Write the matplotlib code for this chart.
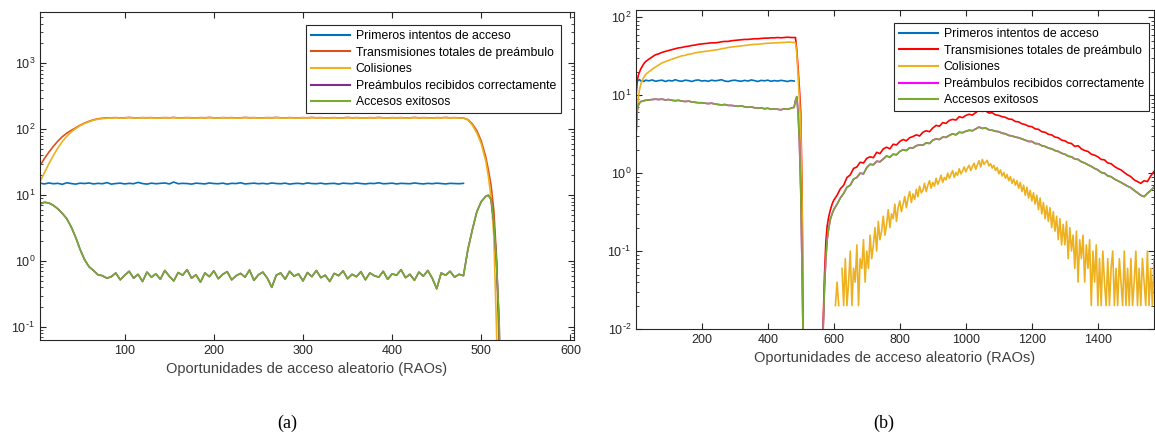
import matplotlib
matplotlib.use("Agg")
import matplotlib.pyplot as plt
import numpy as np

nan = np.nan

plt.rcParams['font.family'] = ['Liberation Sans', 'DejaVu Sans']
plt.rcParams['mathtext.default'] = 'regular'
plt.rcParams['axes.unicode_minus'] = False

labels = ["Primeros intentos de acceso",
          "Transmisiones totales de preámbulo",
          "Colisiones",
          "Preámbulos recibidos correctamente",
          "Accesos exitosos"]
xlabel = "Oportunidades de acceso aleatorio (RAOs)"

# ---------------- panel (a) ----------------
x_a = list(range(5, 481, 5)) + [485, 490, 495, 500, 505, 508, 511, 514, 517, 520, 523]

primeros_a = [15.2, 14.8, 15.3, 14.9, 15.1, 14.6, 15.4, 15.0, 14.7, 15.2,
              15.0, 15.3, 14.8, 15.1, 14.9, 15.5, 14.7, 15.0, 15.2, 14.8,
              15.1, 14.9, 15.6, 15.0, 14.7, 15.2, 14.9, 15.1, 15.3, 14.8,
              15.8, 14.9, 15.1, 15.0, 14.7, 15.2, 15.0, 14.8, 15.3, 15.0,
              14.9, 15.2, 14.7, 15.1, 15.0, 15.4, 14.8, 15.0, 15.2, 14.9,
              15.1, 14.8, 15.3, 15.0, 14.9, 15.2, 14.7, 15.0, 15.1, 14.8,
              15.3, 15.0, 14.9, 15.2, 14.8, 15.0, 15.1, 14.7, 15.2, 15.0,
              14.9, 15.3, 15.0, 14.8, 15.1, 15.0, 15.4, 14.9, 15.0, 15.2,
              14.8, 15.1, 15.0, 14.9, 15.3, 15.0, 14.8, 15.1, 14.9, 15.2,
              15.0, 14.8, 15.1, 15.0, 14.9, 15.1,
              nan, nan, nan, nan, nan, nan, nan, nan, nan, nan, nan]

transm_a = [28, 36, 45, 55, 66, 77, 87, 96, 105, 115, 124, 132, 139, 144, 147, 149,
            149, 150, 148, 149, 151, 149, 148, 150, 149, 150,
            148, 149, 150, 149, 151, 148, 149, 150, 149, 148,
            150, 149, 151, 149, 148, 150, 149, 150, 148, 149,
            151, 149, 150, 148, 149, 150, 149, 151, 149, 148,
            150, 149, 148, 150, 149, 151, 149, 150, 148, 149,
            150, 148, 149, 151, 149, 150, 149, 148, 150, 149,
            151, 149, 148, 150, 149, 150, 148, 149, 151, 149,
            150, 149, 148, 150, 149, 151, 149, 150, 149, 148,
            140, 120, 95, 66, 38, 24, 14, 6, 1.2, 0.05, 0.001]

colis_a = [16, 22, 30, 40, 52, 65, 78, 91, 102, 113, 122, 130, 137, 142, 145, 147,
           148, 149, 147, 148, 150, 148, 147, 149, 148, 149,
           147, 148, 149, 148, 150, 147, 148, 149, 148, 147,
           149, 148, 150, 148, 147, 149, 148, 149, 147, 148,
           150, 148, 149, 147, 148, 149, 148, 150, 148, 147,
           149, 148, 147, 149, 148, 150, 148, 149, 147, 148,
           149, 147, 148, 150, 148, 149, 148, 147, 149, 148,
           150, 148, 147, 149, 148, 149, 147, 148, 150, 148,
           149, 148, 147, 149, 148, 150, 148, 149, 148, 147,
           138, 115, 88, 60, 33, 19, 9, 2.5, 0.1, 0.001, nan]

exitos_a = [7.3, 7.8, 7.6, 7.0, 6.2, 5.3, 4.4, 3.3, 2.3, 1.5, 1.05, 0.82, 0.72, 0.62, 0.6, 0.55,
            0.58, 0.66, 0.52, 0.61, 0.70, 0.55, 0.63, 0.49, 0.68, 0.57,
            0.64, 0.53, 0.72, 0.59, 0.50, 0.67, 0.61, 0.74, 0.55, 0.62,
            0.48, 0.66, 0.58, 0.71, 0.54, 0.63, 0.69, 0.52, 0.60, 0.65,
            0.57, 0.73, 0.51, 0.62, 0.68, 0.55, 0.40, 0.61, 0.66, 0.53,
            0.70, 0.59, 0.64, 0.50, 0.67, 0.58, 0.72, 0.56, 0.61, 0.49,
            0.65, 0.60, 0.71, 0.54, 0.63, 0.58, 0.69, 0.52, 0.66, 0.60,
            0.57, 0.70, 0.53, 0.64, 0.61, 0.74, 0.56, 0.63, 0.51, 0.68,
            0.59, 0.72, 0.55, 0.38, 0.66, 0.61, 0.70, 0.57, 0.63, 0.60,
            1.5, 3.0, 5.6, 8.0, 9.6, 10.0, 8.5, 4.0, 1.0, 0.12, 0.001]
recibidos_a = list(exitos_a)

# ---------------- panel (b) ----------------
x_b = ([1, 3, 5, 8, 12, 16, 20, 25, 30] + list(range(40, 481, 10))
       + [484, 488, 492, 496, 500, 504, 508] + [530]
       + [564, 568, 572, 576, 580, 585, 590, 595] + list(range(600, 1571, 10)))
# collisions are noisier, sampled finer after the gap
x_colis_b = x_b[:70] + list(range(600, 1571, 5))

primeros_b = ([15.3, 15.6, 15.1, 15.5, 15.8, 15.2, 15.4, 15.0, 15.6,
               15.3, 15.7, 15.1, 15.4, 15.6, 15.0, 15.5, 15.2, 15.8, 15.3,
               15.1, 15.6, 15.4, 15.0, 15.5, 15.7, 15.2, 15.4, 15.1, 15.6,
               15.3, 15.5, 15.8, 15.2, 15.0, 15.4, 15.6, 15.3, 15.1, 15.5,
               15.2, 15.7, 15.4, 15.0, 15.5, 15.3, 15.6, 15.1, 15.4, 15.2,
               15.5, 15.3, 15.0, 15.4, 15.2] + [nan] * 114)

transm_b = [9.5, 12, 15.5, 18, 20, 22, 23.5, 25.5, 27,
            29, 31, 33, 34, 35.5, 36.5, 37.5, 38.5, 39.5, 40.5,
            41, 42, 42.5, 43.5, 44, 45, 45.5, 46, 46.5, 47,
            47, 47.5, 48.5, 49, 49, 50, 50.5, 51, 51.5, 52,
            52, 52.5, 53, 53, 53.5, 54, 54, 54.5, 54.5, 55,
            54.5, 55, 55.5, 55, 55,
            55, 38, 22, 12, 6, 0.6, 0.005,
            nan,
            0.003, 0.012, 0.05, 0.13, 0.21, 0.28, 0.34, 0.40,
            0.45, 0.52, 0.63, 0.70, 0.88, 0.95, 1.15, 1.20, 1.38, 1.35,
            1.55, 1.62, 1.58, 1.85, 1.78, 2.05, 2.15, 2.05, 2.35, 2.30,
            2.55, 2.70, 2.60, 2.85, 2.95, 3.10, 3.00, 3.35, 3.50, 3.40,
            3.80, 4.10, 4.00, 4.45, 4.35, 4.75, 4.90, 4.80, 5.30, 5.15,
            5.50, 5.70, 5.55, 6.00, 6.40, 6.20, 6.30, 5.90, 5.95, 5.60,
            5.50, 5.30, 5.20, 4.95, 4.90, 4.60, 4.55, 4.30, 4.20, 4.00,
            3.95, 3.70, 3.65, 3.40, 3.35, 3.15, 3.10, 2.90, 2.85, 2.65,
            2.60, 2.45, 2.40, 2.20, 2.25, 2.05, 1.95, 1.90, 1.75, 1.70,
            1.62, 1.50, 1.48, 1.35, 1.32, 1.22, 1.15, 1.10, 1.02, 0.95,
            0.90, 0.82, 0.78, 0.74, 0.80, 0.78, 0.92, 1.05]

colis_b = [2.7, 4.5, 6.5, 9.5, 12, 14, 15.5, 17, 18.5,
           20, 21.5, 23, 24.5, 26, 27, 28, 29, 30, 31,
           32, 32.5, 33.5, 34, 35, 35.5, 36, 36.5, 37, 37.5,
           38, 38.5, 39.5, 40, 41, 41.5, 42, 42.5, 43, 43.5,
           44, 44.5, 45, 45, 45.5, 46, 46.5, 46.5, 47, 47,
           47.5, 47.5, 48, 48, 47.5,
           47, 35, 18, 9, 4, 0.4, 0.003,
           nan,
           nan, nan, nan, nan, nan, nan, nan, nan,
           nan, 0.02, 0.04, 0.02, nan, 0.06, 0.02, 0.08, 0.02, 0.04,
           0.10, 0.02, 0.06, 0.04, 0.12, 0.02, 0.08, 0.06, 0.14, 0.04,
           0.10, 0.06, 0.16, 0.08, 0.12, 0.20, 0.10, 0.24, 0.14, 0.18,
           0.28, 0.16, 0.22, 0.34, 0.20, 0.30, 0.26, 0.40, 0.24, 0.36,
           0.44, 0.32, 0.40, 0.50, 0.36, 0.48, 0.58, 0.42, 0.54, 0.46,
           0.62, 0.50, 0.68, 0.56, 0.60, 0.74, 0.58, 0.70, 0.80, 0.64,
           0.76, 0.68, 0.86, 0.72, 0.80, 0.94, 0.76, 0.88, 0.82, 1.00,
           0.86, 0.96, 1.08, 0.88, 1.02, 0.94, 1.14, 0.98, 1.06, 1.20,
           1.04, 1.16, 1.26, 1.08, 1.22, 1.34, 1.12, 1.28, 1.44, 1.20,
           1.50, 1.30, 1.38, 1.46, 1.24, 1.32, 1.16, 1.26, 1.08, 1.18,
           0.98, 1.10, 0.92, 1.02, 0.86, 0.96, 0.80, 0.90, 0.74, 0.84,
           0.70, 0.80, 0.64, 0.76, 0.58, 0.70, 0.52, 0.66, 0.48, 0.60,
           0.44, 0.56, 0.40, 0.52, 0.34, 0.48, 0.30, 0.42, 0.26, 0.38,
           0.24, 0.36, 0.20, 0.32, 0.18, 0.28, 0.14, 0.26, 0.12, 0.22,
           0.12, 0.24, 0.08, 0.20, 0.10, 0.16, 0.06, 0.18, 0.04, 0.14,
           0.08, 0.16, 0.04, 0.12, 0.06, 0.14, 0.02, 0.10, 0.04, 0.12,
           0.02, 0.08, 0.02, 0.10, 0.04, 0.02, 0.08, 0.02, 0.06, 0.10,
           0.02, 0.06, 0.02, 0.08, 0.04, 0.02, 0.10, 0.02, 0.06, 0.02,
           0.08, 0.02, 0.04, 0.10, 0.02, 0.06, 0.02, 0.08, 0.04, 0.02,
           0.10, 0.02, 0.06, 0.02, 0.08]

exitos_b = [3.0, 5.0, 6.5, 7.4, 8.0, 8.3, 8.4, 8.5, 8.6,
            8.7, 8.8, 8.9, 8.8, 8.9, 8.7, 8.8, 8.6, 8.5, 8.6,
            8.4, 8.3, 8.4, 8.2, 8.1, 8.0, 8.0, 7.9, 7.8, 7.9,
            7.7, 7.6, 7.5, 7.6, 7.4, 7.4, 7.3, 7.2, 7.3, 7.1,
            7.0, 7.1, 6.9, 6.8, 6.9, 6.7, 6.8, 6.6, 6.7, 6.6,
            6.5, 6.7, 6.6, 6.8, 7.0,
            8.5, 9.6, 6.0, 2.5, 0.6, 0.06, 0.004,
            nan,
            0.003, 0.01, 0.035, 0.08, 0.14, 0.2, 0.26, 0.3,
            0.34, 0.40, 0.48, 0.55, 0.66, 0.70, 0.84, 0.88, 1.00, 0.98,
            1.18, 1.30, 1.28, 1.42, 1.40, 1.52, 1.66, 1.60, 1.75, 1.72,
            1.90, 2.00, 1.95, 2.12, 2.10, 2.25, 2.30, 2.28, 2.45, 2.40,
            2.65, 2.75, 2.70, 2.90, 2.88, 3.05, 3.20, 3.10, 3.35, 3.30,
            3.45, 3.55, 3.50, 3.70, 3.90, 3.75, 3.80, 3.60, 3.55, 3.45,
            3.40, 3.25, 3.20, 3.05, 3.00, 2.90, 2.85, 2.75, 2.65, 2.55,
            2.55, 2.40, 2.38, 2.25, 2.20, 2.10, 2.05, 1.95, 1.90, 1.80,
            1.75, 1.65, 1.62, 1.52, 1.50, 1.40, 1.35, 1.28, 1.22, 1.15,
            1.10, 1.02, 1.00, 0.92, 0.90, 0.84, 0.80, 0.76, 0.72, 0.68,
            0.65, 0.60, 0.56, 0.52, 0.50, 0.55, 0.60, 0.66]
recibidos_b = list(exitos_b)

colors_a = ['#0072BD', '#D95319', '#EDB120', '#7E2F8E', '#77AC30']
colors_b = ['#0072BD', '#FF0000', '#EDB120', '#FF00FF', '#77AC30']

W, H = 1155, 437
fig = plt.figure(figsize=(W / 100, H / 100), dpi=100)


def px_axes(l, t, r, b):
    return fig.add_axes([l / W, 1 - b / H, (r - l) / W, (b - t) / H])


def pow10_label(v, pos):
    e = int(round(np.log10(v)))
    if e < 0:
        return r"$10^{\text{-}%d}$" % (-e)
    return r"$10^{%d}$" % e


def style(ax):
    ax.set_yscale('log')
    for sp in ax.spines.values():
        sp.set_color('#262626')
        sp.set_linewidth(0.8)
    ax.tick_params(which='both', direction='in', top=True, right=True,
                   colors='#262626', labelsize=9)
    ax.tick_params(which='major', length=4)
    ax.tick_params(which='minor', length=2)
    ax.xaxis.set_minor_locator(matplotlib.ticker.NullLocator())
    ax.yaxis.set_major_formatter(matplotlib.ticker.FuncFormatter(pow10_label))
    ax.set_xlabel(xlabel, fontsize=10.5, color='#404040', labelpad=4)


def draw(ax, xs, series, colors, leg_xy):
    for x, y, c, lab in zip(xs, series, colors, labels):
        ax.plot(x, y, color=c, lw=1.2, label=lab)
    leg = ax.legend(loc='upper left', bbox_to_anchor=leg_xy,
                    bbox_transform=fig.transFigure, fontsize=8.8,
                    frameon=True, fancybox=False, framealpha=1,
                    edgecolor='#262626', borderaxespad=0, borderpad=0.4,
                    handlelength=3.2, handletextpad=0.45, labelspacing=0.38)
    leg.get_frame().set_linewidth(0.8)
    for h in leg.get_lines():
        h.set_linewidth(1.5)


ax1 = px_axes(40, 12, 574, 340)
style(ax1)
draw(ax1, [x_a] * 5, [primeros_a, transm_a, colis_a, recibidos_a, exitos_a], colors_a,
     (306 / W, 1 - 25 / H))
ax1.set_xlim(5, 604)
ax1.set_ylim(0.0635, 6000)
ax1.set_xticks([100, 200, 300, 400, 500, 600])

ax2 = px_axes(636, 10, 1154, 329)
style(ax2)
draw(ax2, [x_b, x_b, x_colis_b, x_b, x_b],
     [primeros_b, transm_b, colis_b, recibidos_b, exitos_b], colors_b,
     (894 / W, 1 - 23 / H))
ax2.set_xlim(1, 1570)
ax2.set_ylim(0.01, 124)
ax2.set_xticks([200, 400, 600, 800, 1000, 1200, 1400])

fig.text(287 / W, 1 - 423 / H, "(a)", family=['Liberation Serif'], fontsize=13,
         ha='center', va='center')
fig.text(884 / W, 1 - 423 / H, "(b)", family=['Liberation Serif'], fontsize=13,
         ha='center', va='center')

fig.savefig("out.png", dpi=100)
